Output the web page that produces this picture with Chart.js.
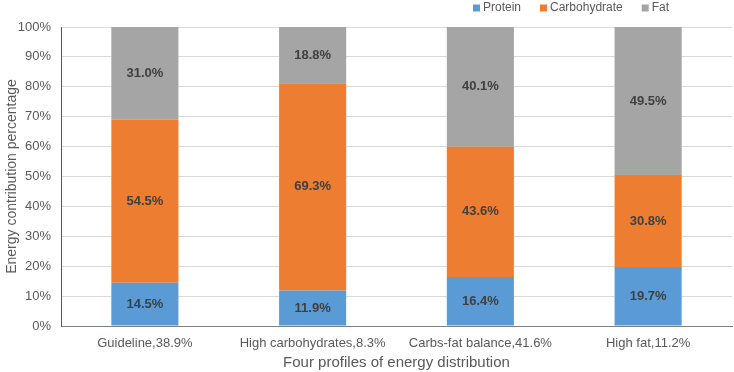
<!DOCTYPE html>
<html>
<head>
<meta charset="utf-8">
<script src="https://cdn.jsdelivr.net/npm/chart.js@4.4.1/dist/chart.umd.min.js"></script>
<style>
  html, body { margin: 0; padding: 0; background: #fff; }
  #wrap { width: 734px; height: 372px; }
</style>
</head>
<body>
<div id="wrap"><canvas id="chart" width="734" height="372"></canvas></div>
<script>
// values
const categories = ['Guideline,38.9%', 'High carbohydrates,8.3%', 'Carbs-fat balance,41.6%', 'High fat,11.2%'];
const protein = [14.5, 11.9, 16.4, 19.7];
const carbohydrate = [54.5, 69.3, 43.6, 30.8];
const fat = [31.0, 18.8, 40.1, 49.5];
const seriesNames = ['Protein', 'Carbohydrate', 'Fat'];
const seriesColors = ['#5B9BD5', '#ED7D31', '#A5A5A5'];
const yTicks = [0, 10, 20, 30, 40, 50, 60, 70, 80, 90, 100];

const FONT = '"Liberation Sans", Arial, sans-serif';

// 100% stacked: scale each column to its own total
const totals = categories.map((c, i) => protein[i] + carbohydrate[i] + fat[i]);
const toShare = arr => arr.map((v, i) => v / totals[i] * 100);

const raw = [protein, carbohydrate, fat];
const datasets = raw.map((arr, k) => ({
  label: seriesNames[k],
  data: toShare(arr),
  raw: arr,
  backgroundColor: seriesColors[k],
  borderWidth: 0,
  categoryPercentage: 0.4,
  barPercentage: 1.0
}));

// percent labels in the middle of each segment
const barLabels = {
  id: 'barLabels',
  afterDatasetsDraw(chart) {
    const ctx = chart.ctx;
    ctx.save();
    ctx.font = 'bold 13px ' + FONT;
    ctx.fillStyle = '#404040';
    ctx.textAlign = 'center';
    ctx.textBaseline = 'middle';
    chart.data.datasets.forEach((ds, i) => {
      chart.getDatasetMeta(i).data.forEach((bar, j) => {
        ctx.fillText(ds.raw[j].toFixed(1) + '%', bar.x, (bar.y + bar.base) / 2);
      });
    });
    ctx.restore();
  }
};

// legend row at the top right, Excel style
const legendRow = {
  id: 'legendRow',
  afterDraw(chart) {
    const ctx = chart.ctx;
    ctx.save();
    ctx.font = '12px ' + FONT;
    ctx.textBaseline = 'middle';
    ctx.textAlign = 'left';
    let x = 473;
    const y = 8;
    chart.data.datasets.forEach(ds => {
      ctx.fillStyle = ds.backgroundColor;
      ctx.fillRect(x, y - 3.5, 7, 7);
      ctx.fillStyle = '#595959';
      ctx.fillText(ds.label, x + 10, y);
      x += 10 + ctx.measureText(ds.label).width + 19;
    });
    ctx.restore();
  }
};

new Chart(document.getElementById('chart'), {
  type: 'bar',
  data: { labels: categories, datasets: datasets },
  plugins: [barLabels, legendRow],
  options: {
    responsive: false,
    animation: false,
    layout: { padding: { top: 27, right: 2, bottom: 0, left: 0 } },
    plugins: {
      legend: { display: false },
      tooltip: { enabled: false }
    },
    scales: {
      x: {
        stacked: true,
        grid: { display: false, drawTicks: false },
        border: { display: true, color: '#7F7F7F', width: 1 },
        ticks: { color: '#595959', font: { family: FONT, size: 13 }, padding: 10, maxRotation: 0, autoSkip: false },
        title: {
          display: true,
          text: 'Four profiles of energy distribution',
          color: '#595959',
          font: { family: FONT, size: 15 },
          padding: { top: 0, bottom: 0 }
        },
        afterFit: s => { s.height = 46; }
      },
      y: {
        stacked: true,
        min: 0,
        max: 100,
        afterBuildTicks: s => { s.ticks = yTicks.map(v => ({ value: v })); },
        grid: { color: '#D9D9D9', lineWidth: 1, drawTicks: false },
        border: { display: true, color: '#595959', width: 1 },
        ticks: {
          color: '#595959',
          font: { family: FONT, size: 13 },
          padding: 10,
          callback: v => v + '%'
        },
        title: {
          display: true,
          text: 'Energy contribution percentage',
          color: '#595959',
          font: { family: FONT, size: 14 },
          padding: { top: 4, bottom: 4 }
        },
        afterFit: s => { s.width = 61; }
      }
    }
  }
});
</script>
</body>
</html>
